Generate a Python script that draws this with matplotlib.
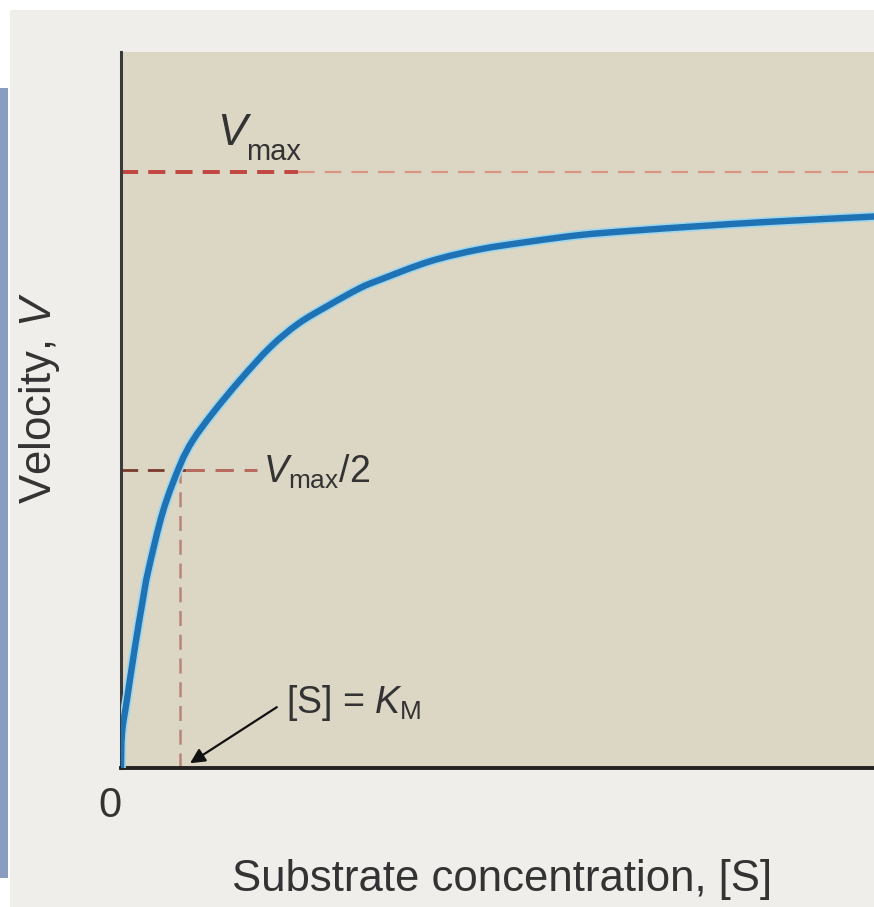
import matplotlib
matplotlib.use("Agg")
import matplotlib.pyplot as plt
from matplotlib.patches import Rectangle, PathPatch
from matplotlib.path import Path

plt.rcParams['font.family'] = ['Liberation Sans', 'DejaVu Sans']
plt.rcParams['mathtext.fontset'] = 'custom'
plt.rcParams['mathtext.rm'] = 'Liberation Sans'
plt.rcParams['mathtext.it'] = 'Liberation Sans:italic'

# ---- data (S in units of K_M, V in units of Vmax) ----
substrate = [0, 0.017, 0.10, 0.24, 0.37, 0.46, 0.71, 1.0, 1.22, 1.56, 2.02, 2.53,
             3.0, 3.5, 4.05, 4.39, 5.24, 6.08, 6.93, 7.78, 8.63, 9.81, 10.95, 12.76]
velocity = [0, 0.059, 0.114, 0.205, 0.282, 0.330, 0.430, 0.508, 0.550, 0.596, 0.651, 0.706,
            0.745, 0.775, 0.805, 0.819, 0.850, 0.870, 0.883, 0.894, 0.901, 0.909, 0.916, 0.925]
vmax = 1.0
km = 1.0
x_max = 12.76
y_max = 1.201
half_line_end = 2.3

ink = '#333333'

fig = plt.figure(figsize=(8.74, 9.07), dpi=100, facecolor='white')
# page panel
fig.patches.append(Rectangle((10 / 874, 0), 1, 1 - 10 / 907, transform=fig.transFigure,
                             facecolor='#f0eeea', edgecolor='none', zorder=-10))
# blue-grey side bar
fig.patches.append(Rectangle((0, 1 - 878 / 907), 8 / 874, (878 - 88) / 907,
                             transform=fig.transFigure, facecolor='#8a9cc0',
                             edgecolor='none', zorder=-9))

ax = fig.add_axes([121 / 874, 139 / 907, 1 - 121 / 874, (768 - 52) / 907])
ax.set_zorder(5)
ax.set_facecolor('#dcd7c5')
ax.set_xlim(0, x_max)
ax.set_ylim(0, y_max)
for side in ('top', 'right'):
    ax.spines[side].set_visible(False)
ax.spines['left'].set_color('#3a3a3a')
ax.spines['left'].set_linewidth(2.2)
ax.spines['bottom'].set_color('#222222')
ax.spines['bottom'].set_linewidth(2.8)
ax.set_xticks([])
ax.set_yticks([])

# Vmax dashed line
ax.plot([0, 3.0], [vmax, vmax], color='#c0463f', lw=2.8, dashes=(4.4, 2.6),
        solid_capstyle='butt', zorder=2)
ax.plot([3.0, x_max], [vmax, vmax], color='#d9957f', lw=1.6, dashes=(7.5, 4.5),
        solid_capstyle='butt', zorder=2)
# Vmax/2 dashed line
ax.plot([0, 1.1], [vmax / 2, vmax / 2], color='#7a3a2c', lw=2.0,
        dashes=(6, 3.5), zorder=2)
ax.plot([1.1, half_line_end], [vmax / 2, vmax / 2], color='#b86a5e', lw=2.2,
        dashes=(6, 3.5), zorder=2)
# K_M dashed line
ax.plot([km, km], [0, vmax / 2], color='#b8857a', lw=1.8, dashes=(6, 3.5), zorder=2)

# curve: smooth path through the read points (Catmull-Rom as cubic Bezier)
pts = list(zip(substrate, velocity))
verts = [pts[0]]
codes = [Path.MOVETO]
n = len(pts)
for i in range(n - 1):
    p0 = pts[i - 1] if i > 0 else pts[i]
    p1 = pts[i]
    p2 = pts[i + 1]
    p3 = pts[i + 2] if i + 2 < n else pts[i + 1]
    c1 = (p1[0] + (p2[0] - p0[0]) / 6, p1[1] + (p2[1] - p0[1]) / 6)
    c2 = (p2[0] - (p3[0] - p1[0]) / 6, p2[1] - (p3[1] - p1[1]) / 6)
    verts += [c1, c2, p2]
    codes += [Path.CURVE4, Path.CURVE4, Path.CURVE4]
curve_path = Path(verts, codes)
ax.add_patch(PathPatch(curve_path, facecolor='none', edgecolor='#9fd6ec', lw=7,
                       capstyle='round', zorder=3))
ax.add_patch(PathPatch(curve_path, facecolor='none', edgecolor='#1f72b4', lw=4.6,
                       capstyle='round', zorder=4))

# labels
ax.text(1.63, 1.045, r'$V$', fontsize=32, color=ink, ha='left', va='baseline')
ax.text(2.12, 1.02, 'max', fontsize=21, color=ink, ha='left', va='baseline')
ax.text(2.41, 0.478, r'$V_{\mathrm{max}}/2$', fontsize=27, color=ink,
        ha='left', va='baseline')
ax.text(2.80, 0.092, r'[S] = $K_{\mathrm{M}}$', fontsize=27, color=ink,
        ha='left', va='baseline')
ax.annotate('', xy=(1.17, 0.008), xytext=(2.64, 0.102),
            arrowprops=dict(arrowstyle='-|>', color='#111111', lw=1.6,
                            mutation_scale=22, shrinkA=0, shrinkB=0))

fig.text(40 / 874, 1 - 398 / 907, r'Velocity, $V$', rotation=90, fontsize=31.5,
         color=ink, ha='center', va='center')
fig.text(502 / 874, 1 - 879 / 907, 'Substrate concentration, [S]', fontsize=31.5,
         color=ink, ha='center', va='center')
fig.text(110 / 874, 1 - 806 / 907, '0', fontsize=30, color=ink, ha='center', va='center')

fig.savefig('out.png', dpi=100, facecolor=fig.get_facecolor())
